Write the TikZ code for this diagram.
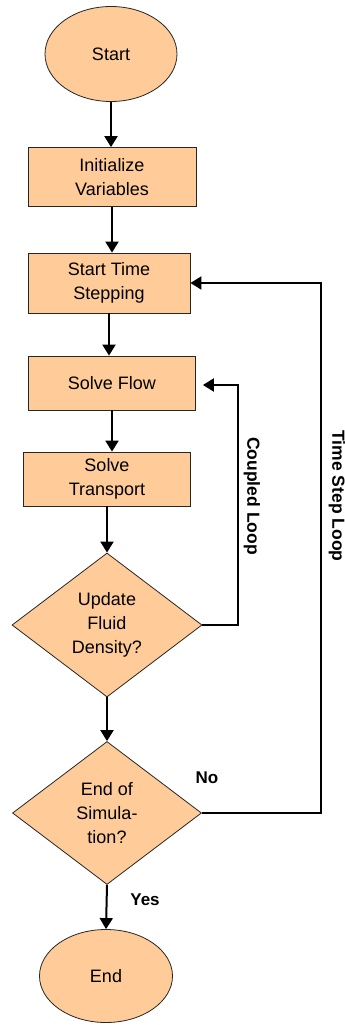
\documentclass[tikz,border=0pt]{standalone}
\usepackage{fontspec}
\setmainfont{Liberation Sans}
\usetikzlibrary{shapes.geometric,arrows.meta}
\definecolor{peach}{RGB}{255,204,153}
\tikzset{
  shapebase/.style={draw=black!85,fill=peach,line width=0.8pt,inner sep=0pt,align=center,font=\fontsize{18}{24}\selectfont},
  block/.style={shapebase,rectangle,minimum width=167pt,minimum height=56pt},
  terminal/.style={shapebase,ellipse,minimum width=132pt,minimum height=95pt},
  decision/.style={shapebase,diamond,minimum width=190pt,minimum height=144pt},
  flow/.style={line width=2pt,-{Triangle[length=11pt,width=13pt]}},
  looplabel/.style={font=\bfseries\fontsize{17.5}{20}\selectfont,rotate=-90}
}
\begin{document}
\begin{tikzpicture}[x=1pt,y=-1pt]
  \useasboundingbox (0,0) rectangle (345,1025);
  % boxes
  \node[terminal] (start) at (111,54) {Start};
  \node[block,minimum width=168pt,minimum height=59pt] (init) at (112,177) {Initialize\\Variables};
  \node[block,minimum width=162pt,minimum height=60pt] (sts) at (109,283) {Start Time\\Stepping};
  \node[block,minimum height=54pt] (solveflow) at (112,383) {Solve Flow};
  \node[block,minimum height=54pt] (transport) at (107,479) {Solve\\Transport};
  \node[decision] (update) at (107,625) {Update\\Fluid\\Density?};
  \node[decision,minimum width=189pt,minimum height=143pt] (endsim) at (107,813) {End of\\Simula-\\tion?};
  \node[terminal,minimum width=133pt,minimum height=93pt] (stop) at (106,976) {End};
  % main flow
  \draw[flow] (start) -- (start |- init.north);
  \draw[flow] (init.south) -- (init.south |- sts.north);
  \draw[flow] (sts.south) -- (sts.south |- solveflow.north);
  \draw[flow] (solveflow.south) -- (solveflow.south |- transport.north);
  \draw[flow] (transport.south) -- (update.north);
  \draw[flow] (update.south) -- (endsim.north);
  \draw[flow] (endsim.south) -- (stop.north);
  % loops
  \coordinate (coupled) at (238,385);
  \coordinate (timestep) at (321,283);
  \draw[flow,shorten >=7pt] (update.east) -| (coupled) -- (coupled -| solveflow.east);
  \draw[flow] (endsim.east) -| (timestep) -- (sts.east);
  \node[looplabel] (cl) at (252,496) {Coupled Loop};
  \node[looplabel] (tsl) at (337,496) {Time Step Loop};
  \node[font=\bfseries\fontsize{17}{20}\selectfont] (no) at (207,778) {No};
  \node[font=\bfseries\fontsize{17}{20}\selectfont] (yes) at (145,900) {Yes};
\end{tikzpicture}
\end{document}
